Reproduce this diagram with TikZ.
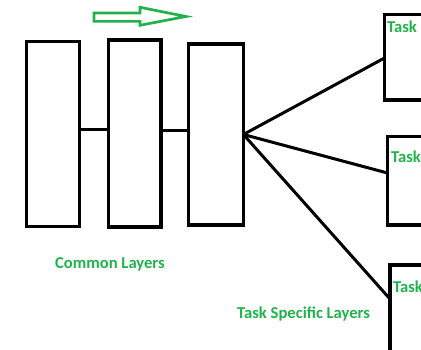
\documentclass[tikz,border=0pt]{standalone}
\usepackage{fontspec}
\setmainfont{Carlito}
\usetikzlibrary{calc}
\definecolor{pgreen}{RGB}{34,177,76}
\begin{document}
\begin{tikzpicture}[x=1pt,y=-1pt,
  layer/.style={draw=black,line width=3.3pt,fill=white,inner sep=0pt,outer sep=0pt},
  link/.style={draw=black,line width=3pt},
  lbl/.style={text=pgreen,font=\fontsize{16.6}{19}\selectfont\bfseries,inner sep=0pt,anchor=base west}]
\useasboundingbox (0,0) rectangle (421,350);
\clip (0,0) rectangle (421,350);
\fill[white] (0,0) rectangle (421,350);
% common layers
\node[layer,minimum width=53pt,minimum height=185pt] (c1) at (53,134) {};
\node[layer,minimum width=52.6pt,minimum height=187pt] (c2) at (134.7,133.6) {};
\node[layer,minimum width=55pt,minimum height=181pt] (c3) at (215.9,134.5) {};
% task specific layers
\node[layer,minimum width=60pt,minimum height=85.5pt] (t1) at (414.5,57.25) {};
\node[layer,minimum width=60pt,minimum height=88.5pt] (t2) at (417.5,180.75) {};
\node[layer,minimum width=60pt,minimum height=100pt] (t3) at (420,315) {};
% connectors
\draw[link] (c1.east |- 0,129.5) -- (c2.west |- 0,129.5);
\draw[link] (c2.east |- 0,130.5) -- (c3.west |- 0,130.5);
\coordinate (fan) at (c3.east);
\draw[link] (fan) -- (t1.west |- 0,58);
\draw[link] (fan) -- (t2.west |- 0,173);
\draw[link] (fan) -- (t3.west |- 0,299);
% green arrow
\draw[draw=pgreen,line width=2.7pt,line join=miter,fill=white]
  (94,13) -- (140,13) -- (140,7.3) -- (186,16.5) -- (140,25.3) -- (140,21.4) -- (94,21.4) -- cycle;
% labels
\node[lbl] (lc) at (55,268.5) {Common Layers};
\node[lbl] (lt) at (237,318.5) {Task Specific Layers};
\node[lbl] (l1) at (387,33) {Task};
\node[lbl] (l2) at (391,163) {Task};
\node[lbl] (l3) at (393,293) {Task};
\end{tikzpicture}
\end{document}
